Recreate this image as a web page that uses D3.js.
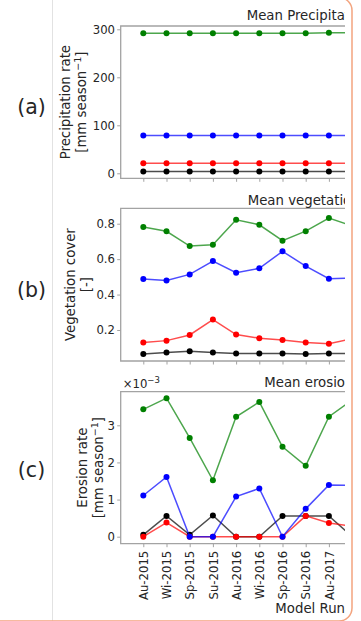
<!DOCTYPE html>
<html>
<head>
<meta charset="utf-8">
<script src="https://cdn.jsdelivr.net/npm/d3@7"></script>
<style>
  html, body { margin: 0; padding: 0; background: #fff; }
  svg { display: block; }
  text { font-family: "DejaVu Sans", sans-serif; fill: #262626; }
</style>
</head>
<body>
<script>
// Model runs (x axis categories)
const seasons = ["Au-2015", "Wi-2015", "Sp-2015", "Su-2015", "Au-2016",
                 "Wi-2016", "Sp-2016", "Su-2016", "Au-2017", "Wi-2017"];

// Series colours, drawn in this order (later ones on top)
const seriesColors = ["black", "red", "blue", "green"];

// (a) Mean precipitation rate [mm season^-1]
const precipBlack = [4, 4, 4, 4, 4, 4, 4, 4, 4, 4];
const precipRed   = [21, 21, 21, 21, 21, 21, 21, 21, 21, 21];
const precipBlue  = [79, 79, 79, 79, 79, 79, 79, 79, 79, 79];
const precipGreen = [292, 292, 292, 292, 292, 292, 292, 292, 293, 293];

// (b) Mean vegetation cover [-]
const vegBlack = [0.065, 0.073, 0.080, 0.073, 0.067, 0.067, 0.067, 0.065, 0.067, 0.068];
const vegRed   = [0.129, 0.140, 0.172, 0.259, 0.174, 0.154, 0.143, 0.129, 0.123, 0.151];
const vegBlue  = [0.488, 0.480, 0.514, 0.589, 0.523, 0.548, 0.644, 0.561, 0.490, 0.494];
const vegGreen = [0.781, 0.757, 0.674, 0.681, 0.822, 0.794, 0.704, 0.758, 0.832, 0.787];

// (c) Mean erosion rate [mm season^-1], in units of 1e-3
const eroBlack = [0.05, 0.56, 0.05, 0.57, 0.00, 0.00, 0.56, 0.56, 0.56, 0.00];
const eroRed   = [0.00, 0.38, 0.00, 0.00, 0.00, 0.00, 0.00, 0.56, 0.37, 0.28];
const eroBlue  = [1.11, 1.61, 0.00, 0.00, 1.08, 1.30, 0.00, 0.75, 1.39, 1.38];
const eroGreen = [3.43, 3.73, 2.66, 1.52, 3.23, 3.63, 2.42, 1.91, 3.23, 3.68];

// Tick values
const precipTicks = [0, 100, 200, 300];
const vegTicks = [0.2, 0.4, 0.6, 0.8];
const eroTicks = [0, 1, 2, 3];

const W = 361, H = 621;
const svg = d3.select("body").append("svg").attr("width", W).attr("height", H);

// frame decorations
svg.append("line").attr("x1", 52.5).attr("x2", 52.5).attr("y1", 0).attr("y2", H)
  .attr("stroke", "#e2e2e2").attr("stroke-width", 1);
svg.append("rect").attr("x", -30).attr("y", -2.5).attr("width", 382).attr("height", 623.5)
  .attr("rx", 13).attr("fill", "none").attr("stroke", "#f3a47f").attr("stroke-width", 1.5);

svg.append("defs").append("clipPath").attr("id", "figclip")
  .append("rect").attr("x", 0).attr("y", 0).attr("width", 345).attr("height", H);

const fig = svg.append("g").attr("clip-path", "url(#figclip)");

const axLeft = 120.7, axRight = 400;
const x = d3.scaleLinear().domain([0, 9]).range([143.3, 143.3 + 9 * 23.2]);

const spineColor = "#a3a3a3";
const tickFont = 11.7, labelFont = 13.3;

const panels = [
  { tag: "(a)", title: "Mean Precipitation rate", titleX: 246.7, titleY: 20,
    top: 26, bottom: 178.3, domain: [-10.4, 306.9], ticks: precipTicks, fmt: d3.format("d"),
    series: [precipBlack, precipRed, precipBlue, precipGreen],
    label: ["Precipitation rate", "[mm season", "\u22121", "]"], labelX: 70.3, tagY: 107 },
  { tag: "(b)", title: "Mean vegetation cover", titleX: 247.7, titleY: 204.5,
    top: 208.3, bottom: 361, domain: [0.025, 0.887], ticks: vegTicks, fmt: d3.format(".1f"),
    series: [vegBlack, vegRed, vegBlue, vegGreen],
    label: ["Vegetation cover", "[-]"], labelX: 75.3, tagY: 290 },
  { tag: "(c)", title: "Mean erosion rate", titleX: 264.3, titleY: 387,
    top: 391.7, bottom: 543.7, domain: [-0.1885, 3.905], ticks: eroTicks, fmt: d3.format("d"),
    series: [eroBlack, eroRed, eroBlue, eroGreen],
    label: ["Erosion rate", "[mm season", "\u22121", "]"], labelX: 87.3, tagY: 470 }
];

panels.forEach((p, pi) => {
  const y = d3.scaleLinear().domain(p.domain).range([p.bottom, p.top]);
  const g = fig.append("g");

  // spines
  g.append("path")
    .attr("d", `M${axRight},${p.top}H${axLeft}V${p.bottom}H${axRight}`)
    .attr("fill", "none").attr("stroke", spineColor).attr("stroke-width", 1.3);

  // y axis
  const yAxis = d3.axisLeft(y).tickValues(p.ticks).tickFormat(p.fmt).tickSize(3.5).tickPadding(2.2);
  const ya = g.append("g").attr("transform", `translate(${axLeft},0)`).call(yAxis);
  ya.select(".domain").remove();
  ya.selectAll(".tick line").attr("stroke", spineColor);
  ya.selectAll(".tick text").attr("font-size", tickFont).attr("fill", "#262626")
    .attr("font-family", "DejaVu Sans");

  // x axis
  const xAxis = d3.axisBottom(x).tickValues(d3.range(seasons.length))
    .tickFormat(i => pi === 2 ? seasons[i] : "").tickSize(3.5).tickPadding(3.5);
  const xa = g.append("g").attr("transform", `translate(0,${p.bottom})`).call(xAxis);
  xa.select(".domain").remove();
  xa.selectAll(".tick line").attr("stroke", spineColor);
  xa.selectAll(".tick text").attr("font-size", tickFont).attr("fill", "#262626")
    .attr("font-family", "DejaVu Sans")
    .attr("transform", "rotate(-90)")
    .attr("text-anchor", "end")
    .attr("x", -7).attr("y", 0).attr("dy", "0.35em");

  // series
  const line = d3.line().x((d, i) => x(i)).y(d => y(d));
  p.series.forEach((vals, si) => {
    const col = seriesColors[si];
    g.append("path").datum(vals).attr("d", line)
      .attr("fill", "none").attr("stroke", col).attr("stroke-opacity", 0.7)
      .attr("stroke-width", 1.5);
    g.selectAll(null).data(vals).enter().append("circle")
      .attr("cx", (d, i) => x(i)).attr("cy", d => y(d)).attr("r", 3)
      .attr("fill", col);
  });

  // title
  g.append("text").attr("x", p.titleX).attr("y", p.titleY)
    .attr("font-size", labelFont).text(p.title);

  // y label (two lines)
  const cy = (p.top + p.bottom) / 2;
  const l1 = g.append("text").attr("transform", `translate(${p.labelX},${cy}) rotate(-90)`)
    .attr("text-anchor", "middle").attr("font-size", labelFont).text(p.label[0]);
  const l2 = g.append("text").attr("transform", `translate(${p.labelX + 16},${cy}) rotate(-90)`)
    .attr("text-anchor", "middle").attr("font-size", labelFont);
  l2.append("tspan").text(p.label[1]);
  if (p.label.length > 2) {
    l2.append("tspan").attr("dy", -5).attr("font-size", 9.5).text(p.label[2]);
    l2.append("tspan").attr("dy", 5).text(p.label[3]);
  }

  // panel tag
  svg.append("text").attr("x", 31.5).attr("y", p.tagY).attr("dy", "0.35em")
    .attr("text-anchor", "middle").attr("font-size", 20.5).text(p.tag);
});

// offset text for erosion axis
const off = fig.append("text").attr("x", 122.7).attr("y", 387.5).attr("font-size", tickFont);
off.append("tspan").text("\u00d710");
off.append("tspan").attr("dy", -4.5).attr("font-size", 8.5).text("\u22123");

// x axis label
fig.append("text").attr("x", 345).attr("y", 613).attr("text-anchor", "end")
  .attr("font-size", labelFont).text("Model Run");
</script>
</body>
</html>
